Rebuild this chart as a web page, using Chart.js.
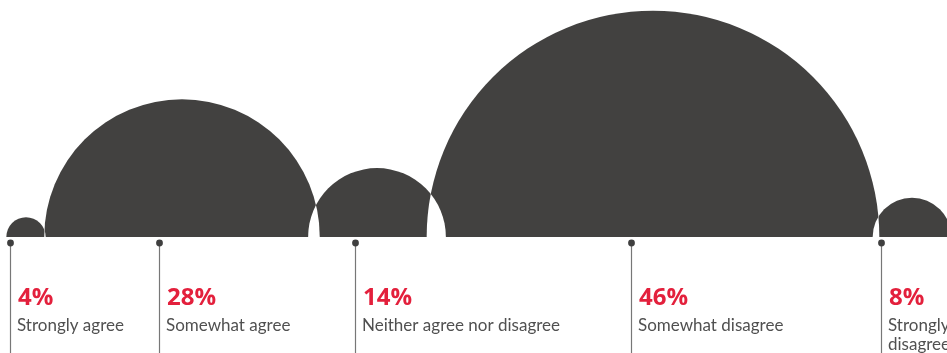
<!DOCTYPE html>
<html lang="en">

<head>
    <meta charset="utf-8" />
    <title>Agreement domes</title>
    <script src="https://cdn.jsdelivr.net/npm/chart.js@4.4.0/dist/chart.umd.min.js"></script>
    <style>
        html, body { margin: 0; padding: 0; background: #fff; }
        #wrap { width: 947px; height: 353px; }
    </style>
</head>

<body>
    <div id="wrap">
        <canvas id="chart-domes" width="947" height="353"></canvas>
    </div>
</body>

<script>
    // answers, in order along the baseline
    const categories = ['Strongly agree', 'Somewhat agree', 'Neither agree nor disagree', 'Somewhat disagree', 'Strongly disagree'];
    const shares = [4, 28, 14, 46, 8];
    // where each dome sits and where its marker line drops, in x-axis units
    const domeCentre = [26, 182, 377, 653, 912];
    const markerPos = [10, 159, 355, 631, 881];

    const DOME = '#424140';
    const RED = '#e3203c';
    const pxPerPoint = 4.92;

    // overlapping domes cancel out (white lens where they cross)
    // then the dots, drop lines and labels under the baseline
    const markerPlugin = {
        id: 'markers',
        beforeDatasetsDraw(chart) {
            chart.ctx.globalCompositeOperation = 'xor';
        },
        afterDatasetsDraw(chart) {
            chart.ctx.globalCompositeOperation = 'source-over';
        },
        afterDraw(chart) {
            const ctx = chart.ctx;
            const xs = chart.scales.x;
            const base = chart.chartArea.bottom;
            ctx.save();
            markerPos.forEach((pos, i) => {
                const x = Math.round(xs.getPixelForValue(pos)) + 0.5;
                const dotY = base + 6;

                ctx.strokeStyle = '#777';
                ctx.lineWidth = 1.2;
                ctx.beginPath();
                ctx.moveTo(x, dotY);
                ctx.lineTo(x, chart.height);
                ctx.stroke();

                ctx.fillStyle = '#3f3f3f';
                ctx.beginPath();
                ctx.arc(x, dotY, 3.4, 0, Math.PI * 2);
                ctx.fill();

                ctx.textAlign = 'left';
                ctx.textBaseline = 'alphabetic';
                ctx.fillStyle = RED;
                ctx.font = 'bold 24px "Open Sans", sans-serif';
                ctx.fillText(shares[i] + '%', x + 7.5, base + 68);

                ctx.fillStyle = '#505050';
                ctx.font = '17px Lato, sans-serif';
                const tx = x + 6.5;
                const room = chart.width - tx;
                const lines = [];
                let cur = '';
                categories[i].split(' ').forEach(w => {
                    const test = cur ? cur + ' ' + w : w;
                    if (cur && ctx.measureText(test).width > room) {
                        lines.push(cur);
                        cur = w;
                    } else {
                        cur = test;
                    }
                });
                lines.push(cur);
                lines.forEach((ln, j) => ctx.fillText(ln, tx, base + 94 + j * 19));
            });
            ctx.restore();
        }
    };

    const ctx = document.getElementById('chart-domes').getContext('2d');
    const chart = new Chart(ctx, {
        type: 'bubble',
        data: {
            datasets: [{
                label: 'Share',
                data: shares.map((v, i) => ({ x: domeCentre[i], y: 0, r: v * pxPerPoint })),
                backgroundColor: DOME,
                borderWidth: 0,
                hoverRadius: 0,
                hoverBorderWidth: 0,
                clip: 0
            }]
        },
        options: {
            responsive: false,
            animation: false,
            events: [],
            layout: { autoPadding: false, padding: { top: 0, left: 0, right: 0, bottom: 116 } },
            plugins: {
                legend: { display: false },
                tooltip: { enabled: false }
            },
            scales: {
                x: { type: 'linear', min: 0, max: 947, display: false },
                y: { type: 'linear', min: 0, max: 1, display: false }
            }
        },
        plugins: [markerPlugin]
    });
</script>

</html>
